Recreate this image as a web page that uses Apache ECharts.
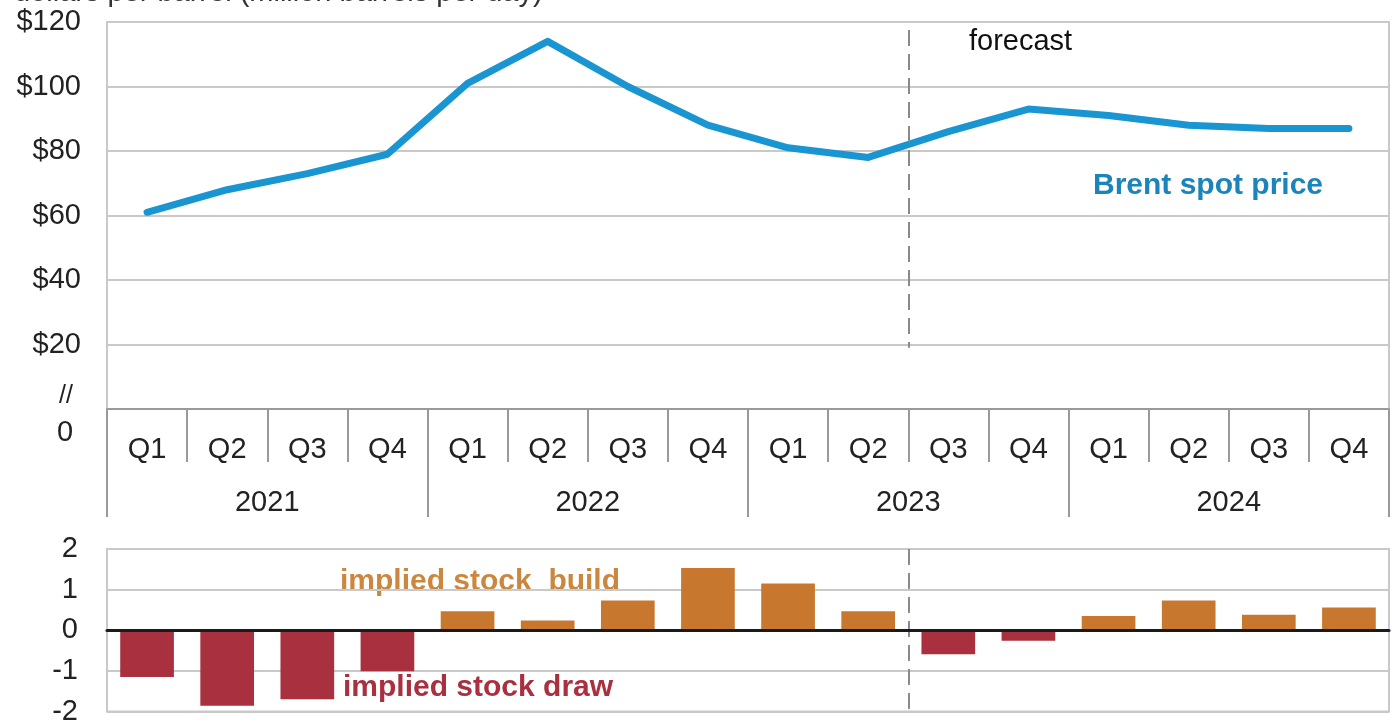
<!DOCTYPE html>
<html><head><meta charset="utf-8">
<script src="https://cdn.jsdelivr.net/npm/echarts@6/dist/echarts.min.js"></script>
<style>html,body{margin:0;padding:0;background:#fff}#c{width:1392px;height:726px}</style>
</head><body><div id="c"></div><script>
const quarters = ['Q1','Q2','Q3','Q4','Q1','Q2','Q3','Q4','Q1','Q2','Q3','Q4','Q1','Q2','Q3','Q4'];
const years = ['2021','2022','2023','2024'];
const brentPrice = [61,68,73,79,101,114,100,88,81,78,86,93,91,88,87,87];
const stockChange = [-1.15,-1.86,-1.70,-1.01,0.47,0.24,0.73,1.53,1.15,0.47,-0.59,-0.26,0.35,0.73,0.38,0.56];
const forecastStart = 10;
const unitsText = 'dollars per barrel (million barrels per day)';

const FONT = "'Liberation Sans', Arial, sans-serif";
const GRID_C = '#c9c9c9';
const AX_C = '#9a9a9a';
const BUILD = '#c8782e';
const DRAW = '#a8303f';
const FS = 29;

const chart = echarts.init(document.getElementById('c'));
chart.setOption({
  animation: false,
  textStyle: {fontFamily: FONT},
  grid: [
    {left: 107, right: 3, top: 22, height: 387, show: true, borderColor: GRID_C, borderWidth: 2},
    {left: 107, right: 3, top: 549, height: 170, show: true, borderColor: GRID_C, borderWidth: 2}
  ],
  xAxis: [
    {type: 'category', gridIndex: 0, data: quarters, position: 'bottom',
     axisLine: {lineStyle: {color: AX_C, width: 2}},
     axisTick: {show: true, length: 53, interval: 0, lineStyle: {color: AX_C, width: 2}},
     axisLabel: {interval: 0, fontSize: FS, color: '#222', margin: 26, fontFamily: FONT}},
    {type: 'category', gridIndex: 0, data: years, position: 'bottom',
     axisLine: {show: false},
     axisTick: {show: true, length: 108, interval: 0, lineStyle: {color: AX_C, width: 2}},
     axisLabel: {interval: 0, fontSize: FS, color: '#222', margin: 79, fontFamily: FONT}},
    {type: 'value', gridIndex: 0, min: 0, max: 16, show: false},
    {type: 'category', gridIndex: 1, data: quarters,
     axisLine: {onZero: true, lineStyle: {color: '#1a1a1a', width: 3}},
     axisTick: {show: false}, axisLabel: {show: false}, z: 5},
    {type: 'value', gridIndex: 1, min: 0, max: 16, show: false}
  ],
  yAxis: [
    {type: 'value', gridIndex: 0, min: 0, max: 120, interval: 20,
     axisLine: {show: true, lineStyle: {color: GRID_C, width: 2}},
     axisTick: {show: false},
     splitLine: {lineStyle: {color: GRID_C, width: 2}},
     axisLabel: {fontSize: FS, color: '#222', margin: 26, fontFamily: FONT,
       formatter: v => v === 0 ? '' : '$' + v}},
    {type: 'value', gridIndex: 1, min: -2, max: 2, interval: 1,
     axisLine: {show: true, lineStyle: {color: GRID_C, width: 2}},
     axisTick: {show: false},
     splitLine: {lineStyle: {color: GRID_C, width: 2}},
     axisLabel: {fontSize: FS, color: '#222', margin: 29, fontFamily: FONT}}
  ],
  series: [
    {name: 'Brent spot price', type: 'line', xAxisIndex: 0, yAxisIndex: 0, data: brentPrice,
     showSymbol: false, lineStyle: {color: '#1996d1', width: 7, cap: 'round', join: 'round'}, z: 4},
    {type: 'line', xAxisIndex: 2, yAxisIndex: 0, data: [], silent: true,
     markLine: {symbol: 'none', silent: true, label: {show: false},
       lineStyle: {color: '#8a8a8a', width: 2, type: [16, 8]},
       data: [[{coord: [forecastStart, 117.5]}, {coord: [forecastStart, 19]}]]}},
    {name: 'implied stock change', type: 'bar', xAxisIndex: 3, yAxisIndex: 1, data: stockChange,
     barWidth: '67%', itemStyle: {color: p => p.value < 0 ? DRAW : BUILD}, z: 3},
    {type: 'line', xAxisIndex: 4, yAxisIndex: 1, data: [], silent: true,
     markLine: {symbol: 'none', silent: true, label: {show: false},
       lineStyle: {color: '#8a8a8a', width: 2, type: [16, 8]},
       data: [[{coord: [forecastStart, 2]}, {coord: [forecastStart, -2]}]]}}
  ],
  graphic: [
    {type: 'text', left: 14, top: -22, style: {text: unitsText, fontSize: FS, fill: '#333', fontFamily: FONT}},
    {type: 'text', left: 969, top: 27, style: {text: 'forecast', fontSize: FS, fill: '#111', fontFamily: FONT}},
    {type: 'text', left: 1093, top: 171, style: {text: 'Brent spot price', fontSize: 30, fontWeight: 'bold', fill: '#1b84ba', fontFamily: FONT}},
    {type: 'text', left: 340, top: 567, style: {text: 'implied stock  build', fontSize: 30, fontWeight: 'bold', fill: '#cc873f', fontFamily: FONT}},
    {type: 'text', left: 343, top: 673, style: {text: 'implied stock draw', fontSize: 30, fontWeight: 'bold', fill: DRAW, fontFamily: FONT}},
    {type: 'text', left: 59, top: 384, style: {text: '//', fontSize: 25, fill: '#222', fontFamily: FONT}},
    {type: 'text', left: 57, top: 418, style: {text: '0', fontSize: FS, fill: '#222', fontFamily: FONT}}
  ]
});
</script></body></html>
